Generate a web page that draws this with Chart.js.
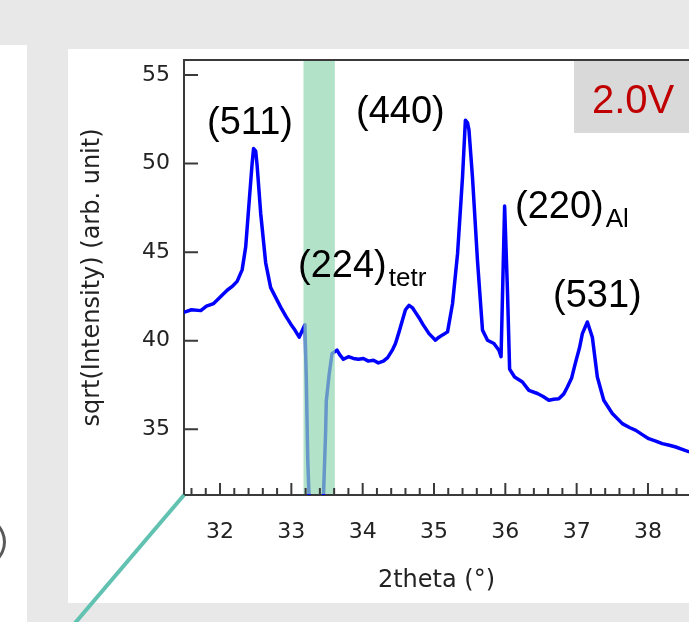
<!DOCTYPE html>
<html>
<head>
<meta charset="utf-8">
<script src="https://cdn.jsdelivr.net/npm/chart.js@4"></script>
<style>
  html,body{margin:0;padding:0;}
  body{width:689px;height:622px;background:#e8e8e8;position:relative;overflow:hidden;}
  .strip{position:absolute;left:0;top:45px;width:27px;height:577px;background:#fff;}
  .ring{position:absolute;left:-52px;top:515px;width:52px;height:48px;border:3px solid #5a5a5a;border-radius:50%;}
  .panel{position:absolute;left:68px;top:49px;width:621px;height:554px;background:#fff;}
  canvas{position:absolute;left:0;top:0;}
</style>
</head>
<body>
<div class="strip"></div>
<div class="ring"></div>
<div class="panel"></div>
<canvas id="xrd" width="689" height="622"></canvas>
<script>
// 2theta (deg) and sqrt(Intensity)
const twoTheta = [
  31.49, 31.60, 31.73, 31.81, 31.91, 32.00, 32.10, 32.18, 32.24, 32.31,
  32.36, 32.40, 32.45, 32.47, 32.50, 32.52, 32.57, 32.64, 32.71, 32.78,
  32.85, 32.92, 32.99, 33.05, 33.11, 33.19, 33.21, 33.23, 33.25, 33.27,
  33.42, 33.45, 33.48, 33.49, 33.53, 33.57, 33.64, 33.68, 33.73, 33.80,
  33.87, 33.94, 34.01, 34.08, 34.15, 34.22, 34.29, 34.35, 34.42, 34.46,
  34.51, 34.56, 34.60, 34.65, 34.70, 34.74, 34.79, 34.84, 34.93, 35.02,
  35.07, 35.12, 35.19, 35.26, 35.33, 35.40, 35.44, 35.47, 35.49, 35.54,
  35.61, 35.68, 35.75, 35.84, 35.91, 35.94, 35.99, 36.03, 36.06, 36.13,
  36.24, 36.33, 36.45, 36.53, 36.61, 36.68, 36.75, 36.82, 36.87, 36.93,
  36.98, 37.04, 37.08, 37.15, 37.22, 37.29, 37.38, 37.50, 37.64, 37.74,
  37.83, 37.92, 38.01, 38.10, 38.20, 38.30, 38.39, 38.49, 38.58
];
const sqrtIntensity = [
  41.60, 41.75, 41.70, 41.95, 42.10, 42.45, 42.85, 43.10, 43.35, 44.00,
  45.30, 47.40, 50.00, 50.85, 50.70, 49.90, 47.20, 44.40, 43.00, 42.45,
  41.90, 41.40, 40.95, 40.60, 40.20, 40.90, 37.80, 33.30, 31.00, 29.50,
  29.50, 31.20, 34.80, 36.60, 38.10, 39.27, 39.47, 39.20, 38.95, 39.10,
  39.00, 38.95, 39.00, 38.85, 38.90, 38.75, 38.85, 39.05, 39.50, 39.84,
  40.50, 41.20, 41.75, 42.00, 41.85, 41.60, 41.30, 40.95, 40.40, 40.03,
  40.20, 40.33, 40.50, 42.10, 44.90, 49.25, 52.45, 52.30, 51.90, 49.20,
  44.50, 40.60, 40.03, 39.84, 39.46, 39.10, 47.60, 42.80, 38.40, 37.95,
  37.67, 37.20, 37.02, 36.85, 36.64, 36.70, 36.73, 37.00, 37.39, 37.90,
  38.71, 39.60, 40.40, 41.06, 40.20, 37.95, 36.64, 35.89, 35.32, 35.10,
  34.94, 34.70, 34.47, 34.35, 34.19, 34.10, 34.00, 33.85, 33.72
];
const xTicks = [32, 33, 34, 35, 36, 37, 38];
const yTicks = [35, 40, 45, 50, 55];
const peakNames = ['(511)', '(440)', '(224)', '(220)', '(531)'];
const peakSubs  = ['', '', 'tetr', 'Al', ''];
const maskRange = [33.17, 33.61];   // greyed-out region of the scan
const voltage = '2.0V';

const axisFont = "'DejaVu Sans', sans-serif";
const labelFont = "'Liberation Sans', Arial, sans-serif";
const ink = '#222';

const decor = {
  id: 'decor',
  afterDatasetsDraw(chart) {
    const {ctx, chartArea: a, scales: {x}} = chart;
    const x0 = x.getPixelForValue(maskRange[0]), x1 = x.getPixelForValue(maskRange[1]);
    ctx.save();
    ctx.fillStyle = 'rgba(146,215,176,0.7)';
    ctx.fillRect(x0, a.top + 1, x1 - x0, a.bottom - a.top - 2);
    ctx.restore();
  },
  afterDraw(chart) {
    const {ctx, chartArea: a, scales: {x, y}} = chart;
    ctx.save();
    ctx.strokeStyle = '#3a3a3a';
    ctx.lineWidth = 2;
    // top frame
    ctx.beginPath();
    ctx.moveTo(a.left, a.top); ctx.lineTo(a.right, a.top);
    ctx.stroke();
    // inward ticks
    ctx.beginPath();
    xTicks.forEach(v => {
      const px = x.getPixelForValue(v);
      ctx.moveTo(px, a.bottom); ctx.lineTo(px, a.bottom - 12);
    });
    for (let v = 31.6; v < x.max; v += 0.2) {
      if (Math.abs(v - Math.round(v)) < 0.01) continue;
      const px = x.getPixelForValue(v);
      ctx.moveTo(px, a.bottom); ctx.lineTo(px, a.bottom - 7);
    }
    yTicks.forEach(v => {
      const py = y.getPixelForValue(v);
      ctx.moveTo(a.left, py); ctx.lineTo(a.left + 14, py);
    });
    ctx.stroke();

    // teal connector line
    ctx.strokeStyle = '#62c2b1';
    ctx.lineWidth = 4;
    ctx.beginPath();
    ctx.moveTo(a.left, a.bottom);
    ctx.lineTo(a.left - 120, a.bottom + 141);
    ctx.stroke();

    // voltage box
    ctx.fillStyle = '#d9d9d9';
    ctx.fillRect(574, a.top + 1, 689 - 574, 72);
    ctx.fillStyle = '#c00000';
    ctx.font = '40px ' + labelFont;
    ctx.textBaseline = 'alphabetic';
    ctx.fillText(voltage, 592, 113);

    // peak labels: left edge (deg), centre (sqrt I)
    const spots = [[31.818, 52.35], [33.907, 52.97], [33.094, 44.27], [36.136, 47.6], [36.669, 42.58]];
    ctx.fillStyle = '#000';
    peakNames.forEach((t, i) => {
      const px = x.getPixelForValue(spots[i][0]);
      const py = y.getPixelForValue(spots[i][1]);
      ctx.font = '38px ' + labelFont;
      ctx.fillText(t, px, py + 12);
      if (peakSubs[i]) {
        const w = ctx.measureText(t).width;
        ctx.font = '26px ' + labelFont;
        ctx.fillText(peakSubs[i], px + w + 2, py + 21);
      }
    });
    ctx.restore();
  }
};

new Chart(document.getElementById('xrd').getContext('2d'), {
  type: 'line',
  data: {
    datasets: [{
      data: twoTheta.map((t, i) => ({x: t, y: sqrtIntensity[i]})),
      borderColor: '#0000ff', borderWidth: 3.5,
      borderJoinStyle: 'round',
      pointRadius: 0, tension: 0, fill: false
    }]
  },
  options: {
    responsive: false, animation: false,
    layout: {padding: {top: 60, left: 0, right: 0, bottom: 0}},
    plugins: {legend: {display: false}, tooltip: {enabled: false}},
    scales: {
      x: {
        type: 'linear', min: 31.495, max: 38.575,
        afterBuildTicks: s => { s.ticks = xTicks.map(v => ({value: v})); },
        afterFit: s => { s.height = 127; },
        grid: {display: false, drawTicks: false},
        border: {display: true, color: '#3a3a3a', width: 2},
        ticks: {color: ink, font: {family: axisFont, size: 22}, padding: 24, maxRotation: 0},
        title: {display: true, text: '2theta (°)', color: ink,
                font: {family: axisFont, size: 24}, padding: {top: 0, bottom: 27}}
      },
      y: {
        min: 31.29, max: 55.85,
        afterBuildTicks: s => { s.ticks = yTicks.map(v => ({value: v})); },
        afterFit: s => { s.width = 184; },
        grid: {display: false, drawTicks: false},
        border: {display: true, color: '#3a3a3a', width: 2},
        ticks: {color: ink, font: {family: axisFont, size: 22}, padding: 14},
        title: {display: true, text: 'sqrt(Intensity) (arb. unit)', color: ink,
                font: {family: axisFont, size: 24}, padding: {top: 78, bottom: 0}}
      }
    }
  },
  plugins: [decor]
});
</script>
</body>
</html>
